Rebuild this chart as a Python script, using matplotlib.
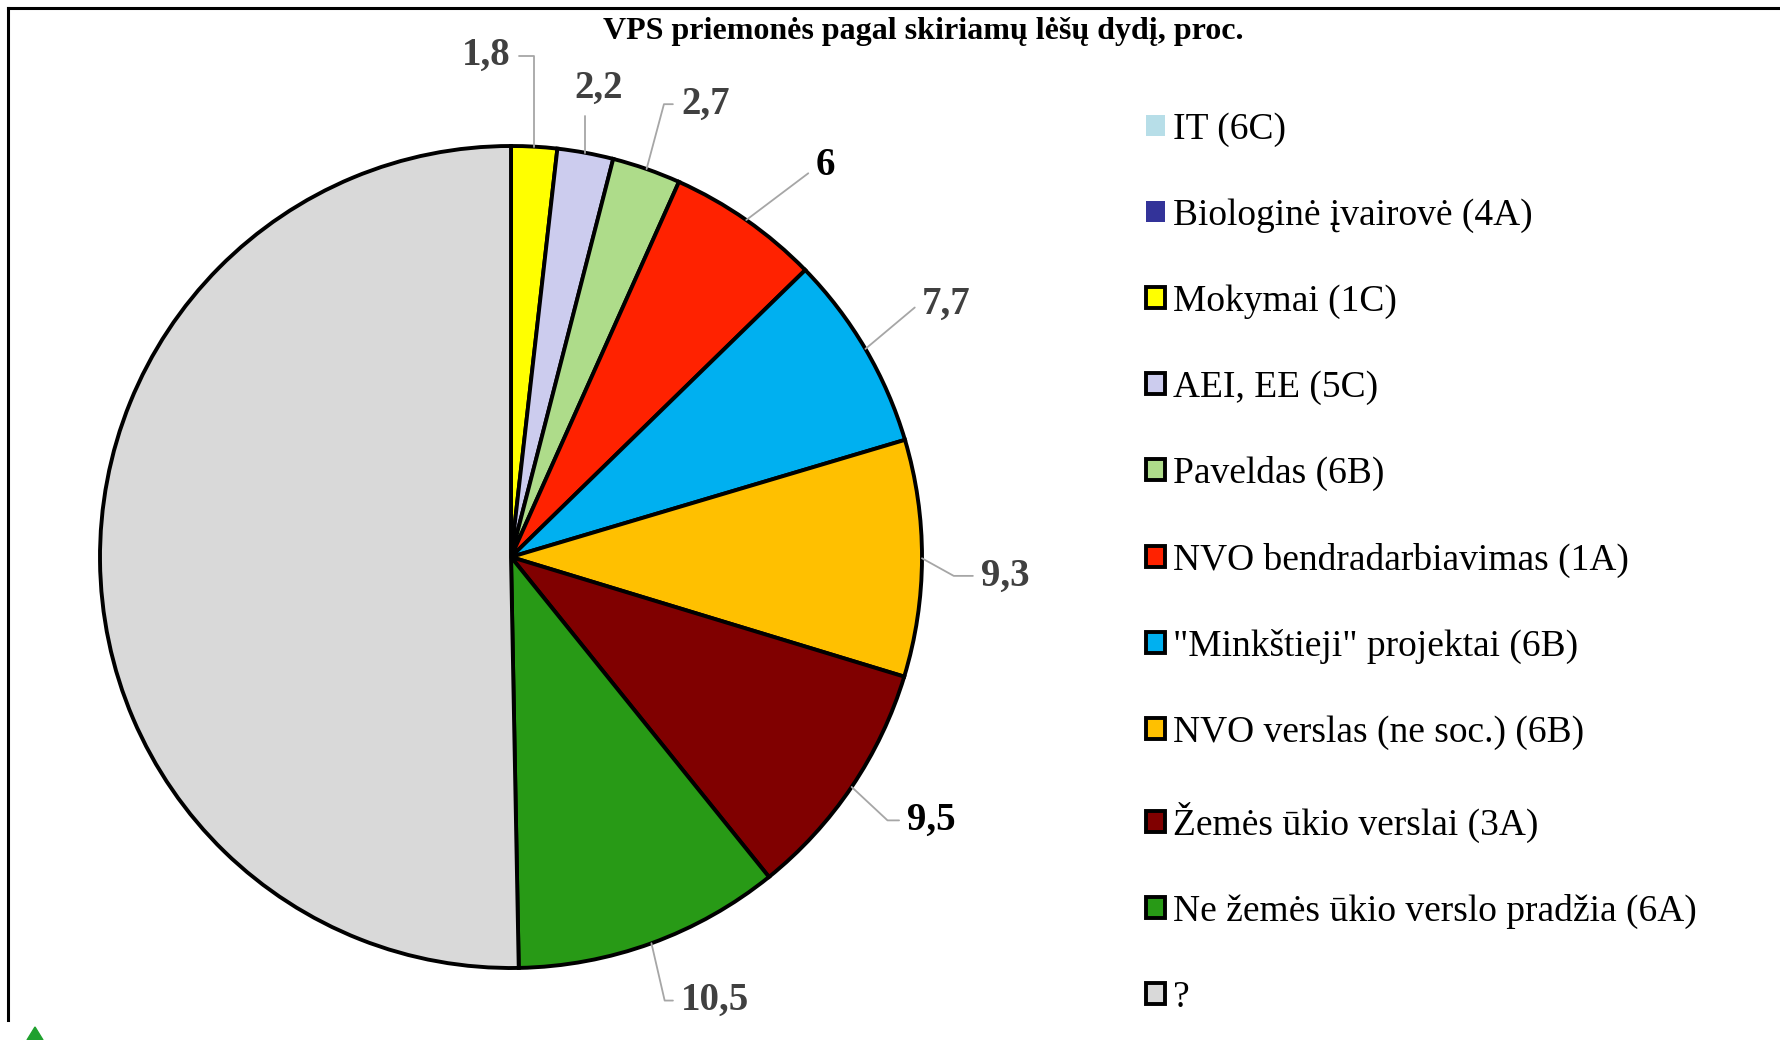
import matplotlib.pyplot as plt
import matplotlib as mpl
import numpy as np
from matplotlib.lines import Line2D
from matplotlib.patches import Polygon

plt.rcParams.update({'font.family': ['Liberation Serif', 'DejaVu Serif']})

#%% data
categories = ['IT (6C)', 'Biologinė įvairovė (4A)', 'Mokymai (1C)', 'AEI, EE (5C)',
              'Paveldas (6B)', 'NVO bendradarbiavimas (1A)', '"Minkštieji" projektai (6B)',
              'NVO verslas (ne soc.) (6B)', 'Žemės ūkio verslai (3A)',
              'Ne žemės ūkio verslo pradžia (6A)', '?']
values = [0, 0, 1.8, 2.2, 2.7, 6, 7.7, 9.3, 9.5, 10.5, 50.3]
value_labels = ['', '', '1,8', '2,2', '2,7', '6', '7,7', '9,3', '9,5', '10,5', '']
colors = ['#B7DEE8', '#333399', '#FFFF00', '#CCCCEE', '#AEDC8A', '#FF2200',
          '#00B0F0', '#FFC000', '#800000', '#289A16', '#D9D9D9']

# label layout: angle (deg clockwise from top), radius factor, alignment, leader angle, colour
lab_ang = [0, 0, 0, 10.6, 20.6, 37.9, 58.4, 92.3, 123.6, 159.0, 0]
lab_rad = [0, 0, 1.22, 1.159, 1.177, 1.206, 1.174, 1.145, 1.158, 1.156, 0]
lab_ha = ['', '', 'right', 'center', 'left', 'left', 'left', 'left', 'left', 'left', '']
lead_ang = [0, 0, 90, 90, 75, 37, 40, -29, -43, -77, 0]
lab_col = ['', '', '#404040', '#404040', '#404040', 'black', '#404040', '#404040',
           'black', '#404040', '']

W, H = 1781, 1040
fig = plt.figure(figsize=(W / 100, H / 100), dpi=100)

# pie axes: centre (511, 557) px from top, radius 411 px
R = 411.0
cx, cy = 511.0, H - 557.0
span = 1.4
ax = fig.add_axes([(cx - span * R) / W, (cy - span * R) / H, 2 * span * R / W, 2 * span * R / H])
wedges, _ = ax.pie(values, colors=colors, startangle=90, counterclock=False,
                   wedgeprops=dict(edgecolor='black', linewidth=2.8))
for w, v in zip(wedges, values):
    if v == 0:
        w.set_edgecolor('none')
ax.set_xlim(-span, span)
ax.set_ylim(-span, span)
ax.set_aspect('equal')
ax.axis('off')

cum = np.cumsum([0] + values)
for i, v in enumerate(values):
    if not value_labels[i]:
        continue
    mid = (cum[i] + v / 2) / cum[-1] * 360.0
    th = np.deg2rad(90 - mid)
    px, py = np.cos(th), np.sin(th)
    tl = np.deg2rad(90 - lab_ang[i])
    tx, ty = lab_rad[i] * np.cos(tl), lab_rad[i] * np.sin(tl)
    ax.annotate(value_labels[i], xy=(px, py), xytext=(tx, ty), ha=lab_ha[i], va='center',
                fontsize=28, fontweight='bold', color=lab_col[i], annotation_clip=False,
                arrowprops=dict(arrowstyle='-', color='#A6A6A6', lw=1.3, shrinkA=4, shrinkB=0,
                                connectionstyle='angle,angleA=0,angleB=%d,rad=0' % lead_ang[i]))

fig.text(923 / W, 1 - 32 / H, 'VPS priemonės pagal skiriamų lėšų dydį, proc.',
         ha='center', va='center', fontsize=23, fontweight='bold')

leg = fig.legend(wedges, categories, loc='upper left', bbox_to_anchor=(1131 / W, 1 - 97 / H),
                 frameon=False, fontsize=27, handlelength=0.5, handleheight=0.5,
                 handletextpad=0.22, labelspacing=1.37, borderaxespad=0)

# frame fragments and cropped logo
fig.add_artist(Line2D([8 / W, 1], [1 - 8 / H, 1 - 8 / H], color='black', lw=2.2))
fig.add_artist(Line2D([8 / W, 8 / W], [1 - 8 / H, 1 - 1020 / H], color='black', lw=2.2))
fig.add_artist(Polygon([[27 / W, 0], [35 / W, 13 / H], [43 / W, 0]], closed=True,
                       color='#1FA02E', transform=fig.transFigure))

plt.savefig('out.png', dpi=100)
